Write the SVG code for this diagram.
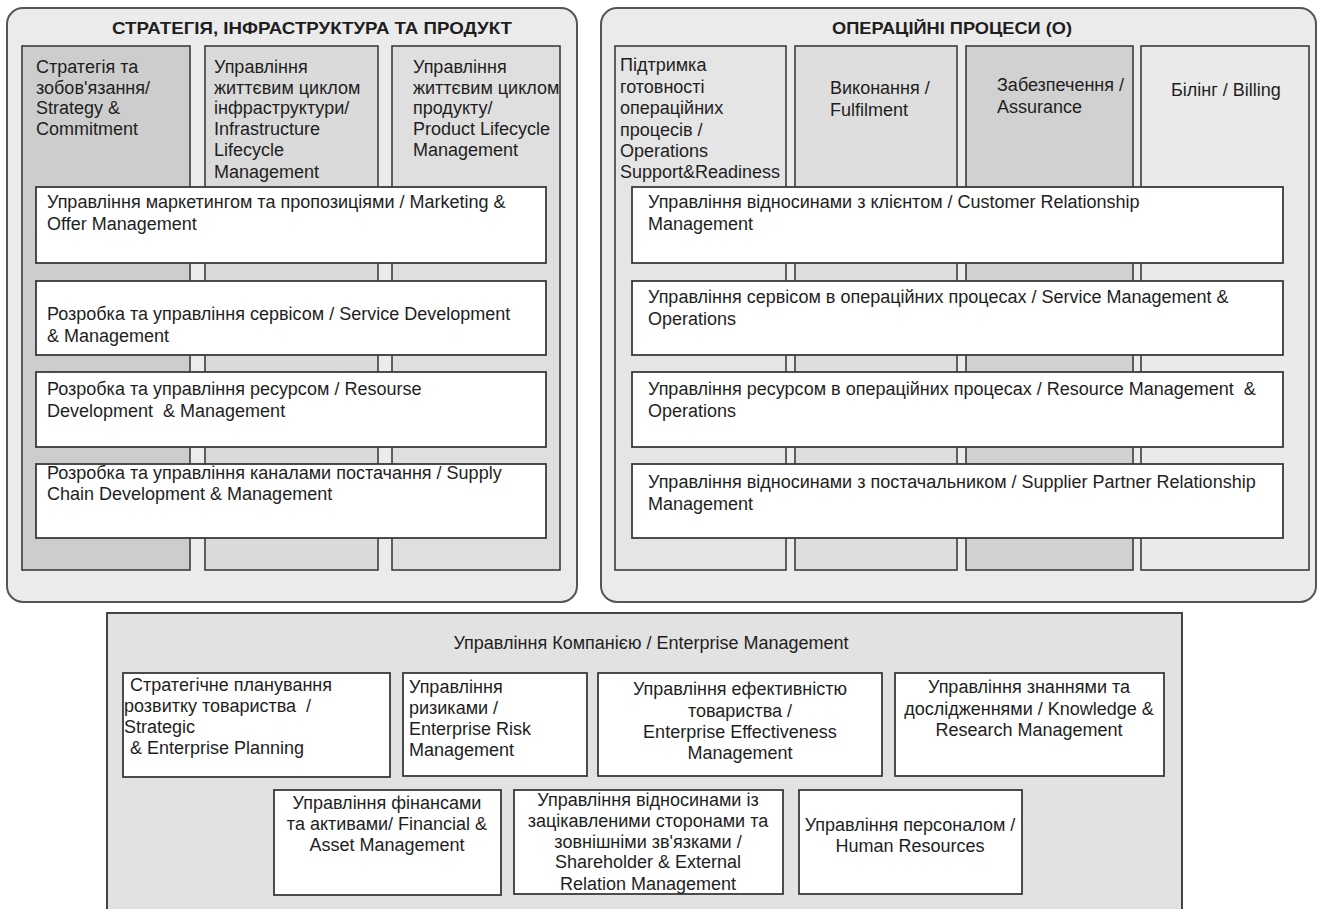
<svg xmlns="http://www.w3.org/2000/svg" width="1320" height="909" viewBox="0 0 1320 909">
<style>
.bg{fill:#ffffff}
.panel{fill:#ebebeb;stroke:#555;stroke-width:2}
.bpanel{fill:#e2e2e2;stroke:#444;stroke-width:2}
.col{stroke:#3c3c3c;stroke-width:1.6}
.c1{fill:#cdcdcd}.c2{fill:#dadada}.c3{fill:#dfdfdf}
.r1{fill:#e5e5e5}.r2{fill:#dedede}.r3{fill:#d1d1d1}.r4{fill:#eaeaea}
.box{fill:#ffffff;stroke:#3a3a3a;stroke-width:1.8}
text{font-family:"Liberation Sans",Arial,sans-serif;font-size:18px;fill:#1e1e1e}
.title{font-weight:bold;font-size:17px}
.mid{text-anchor:middle}
.pre{white-space:pre}
</style>
<rect class="bg" x="0" y="0" width="1320" height="909"/>

<g id="panel-sip">
<rect class="panel" x="7" y="8" width="570" height="594" rx="16"/>
<text class="title mid" x="312" y="34" textLength="400" lengthAdjust="spacingAndGlyphs">СТРАТЕГІЯ, ІНФРАСТРУКТУРА ТА ПРОДУКТ</text>
</g>
<g id="col-strategy">
<rect class="col c1" x="22" y="46" width="168" height="524"/>
<text x="36" y="73">Стратегія та</text>
<text x="36" y="94">зобов'язання/</text>
<text x="36" y="114">Strategy &amp;</text>
<text x="36" y="135">Commitment</text>
</g>
<g id="col-infra">
<rect class="col c2" x="205" y="46" width="173" height="524"/>
<text x="214" y="73">Управління</text>
<text x="214" y="94">життєвим циклом</text>
<text x="214" y="114">інфраструктури/</text>
<text x="214" y="135">Infrastructure</text>
<text x="214" y="156">Lifecycle</text>
<text x="214" y="178">Management</text>
</g>
<g id="col-product">
<rect class="col c3" x="392" y="46" width="168" height="524"/>
<text x="413" y="73">Управління</text>
<text x="413" y="94">життєвим циклом</text>
<text x="413" y="114">продукту/</text>
<text x="413" y="135">Product Lifecycle</text>
<text x="413" y="156">Management</text>
</g>
<g id="row-marketing">
<rect class="box" x="36" y="187" width="510" height="76"/>
<text x="47" y="208">Управління маркетингом та пропозиціями / Marketing &amp;</text>
<text x="47" y="230">Offer Management</text>
</g>
<g id="row-service-dev">
<rect class="box" x="36" y="281" width="510" height="74"/>
<text x="47" y="320">Розробка та управління сервісом / Service Development</text>
<text x="47" y="342">&amp; Management</text>
</g>
<g id="row-resource-dev">
<rect class="box" x="36" y="372" width="510" height="75"/>
<text x="47" y="395">Розробка та управління ресурсом / Resourse</text>
<text class="pre" x="47" y="417" xml:space="preserve">Development  &amp; Management</text>
</g>
<g id="row-supply">
<rect class="box" x="36" y="464" width="510" height="74"/>
<text x="47" y="479">Розробка та управління каналами постачання / Supply</text>
<text x="47" y="500">Chain Development &amp; Management</text>
</g>

<g id="panel-ops">
<rect class="panel" x="601" y="8" width="715" height="594" rx="16"/>
<text class="title mid" x="952" y="34" textLength="240" lengthAdjust="spacingAndGlyphs">ОПЕРАЦІЙНІ ПРОЦЕСИ (О)</text>
</g>
<g id="col-osr">
<rect class="col r1" x="615" y="46" width="171" height="524"/>
<text x="620" y="71">Підтримка</text>
<text x="620" y="93">готовності</text>
<text x="620" y="114">операційних</text>
<text x="620" y="136">процесів /</text>
<text x="620" y="157">Operations</text>
<text x="620" y="178">Support&amp;Readiness</text>
</g>
<g id="col-fulfilment">
<rect class="col r2" x="795" y="46" width="162" height="524"/>
<text x="830" y="94">Виконання /</text>
<text x="830" y="116">Fulfilment</text>
</g>
<g id="col-assurance">
<rect class="col r3" x="966" y="46" width="167" height="524"/>
<text x="997" y="91">Забезпечення /</text>
<text x="997" y="113">Assurance</text>
</g>
<g id="col-billing">
<rect class="col r4" x="1141" y="46" width="168" height="524"/>
<text x="1171" y="96">Білінг / Billing</text>
</g>
<g id="row-crm">
<rect class="box" x="632" y="187" width="651" height="76"/>
<text x="648" y="208">Управління відносинами з клієнтом / Customer Relationship</text>
<text x="648" y="230">Management</text>
</g>
<g id="row-smo">
<rect class="box" x="632" y="281" width="651" height="74"/>
<text x="648" y="303">Управління сервісом в операційних процесах / Service Management &amp;</text>
<text x="648" y="325">Operations</text>
</g>
<g id="row-rmo">
<rect class="box" x="632" y="372" width="651" height="75"/>
<text class="pre" x="648" y="395" xml:space="preserve">Управління ресурсом в операційних процесах / Resource Management  &amp;</text>
<text x="648" y="417">Operations</text>
</g>
<g id="row-sprm">
<rect class="box" x="632" y="464" width="651" height="74"/>
<text x="648" y="488">Управління відносинами з постачальником / Supplier Partner Relationship</text>
<text x="648" y="510">Management</text>
</g>

<g id="panel-enterprise">
<rect class="bpanel" x="107" y="613" width="1075" height="310"/>
<text class="mid" x="651" y="649">Управління Компанією / Enterprise Management</text>
</g>
<g id="box-strategic">
<rect class="box" x="123" y="673" width="267" height="104"/>
<text x="130" y="691">Стратегічне планування</text>
<text class="pre" x="124" y="712" xml:space="preserve">розвитку товариства  /</text>
<text x="124" y="733">Strategic</text>
<text x="130" y="754">&amp; Enterprise Planning</text>
</g>
<g id="box-risk">
<rect class="box" x="403" y="673" width="184" height="103"/>
<text x="409" y="693">Управління</text>
<text x="409" y="714">ризиками /</text>
<text x="409" y="735">Enterprise Risk</text>
<text x="409" y="756">Management</text>
</g>
<g id="box-effectiveness">
<rect class="box" x="598" y="673" width="284" height="103"/>
<text class="mid" x="740" y="695">Управління ефективністю</text>
<text class="mid" x="740" y="717">товариства /</text>
<text class="mid" x="740" y="738">Enterprise Effectiveness</text>
<text class="mid" x="740" y="759">Management</text>
</g>
<g id="box-knowledge">
<rect class="box" x="895" y="673" width="269" height="103"/>
<text class="mid" x="1029" y="693">Управління знаннями та</text>
<text class="mid" x="1029" y="715">дослідженнями / Knowledge &amp;</text>
<text class="mid" x="1029" y="736">Research Management</text>
</g>
<g id="box-financial">
<rect class="box" x="274" y="790" width="227" height="105"/>
<text class="mid" x="387" y="809">Управління фінансами</text>
<text class="mid" x="387" y="830">та активами/ Financial &amp;</text>
<text class="mid" x="387" y="851">Asset Management</text>
</g>
<g id="box-stakeholder">
<rect class="box" x="514" y="790" width="269" height="104"/>
<text class="mid" x="648" y="806">Управління відносинами із</text>
<text class="mid" x="648" y="827">зацікавленими сторонами та</text>
<text class="mid" x="648" y="848">зовнішніми зв'язками /</text>
<text class="mid" x="648" y="868">Shareholder &amp; External</text>
<text class="mid" x="648" y="890">Relation Management</text>
</g>
<g id="box-hr">
<rect class="box" x="799" y="790" width="223" height="104"/>
<text class="mid" x="910" y="831">Управління персоналом /</text>
<text class="mid" x="910" y="852">Human Resources</text>
</g>
<g id="connectors"></g>
</svg>
